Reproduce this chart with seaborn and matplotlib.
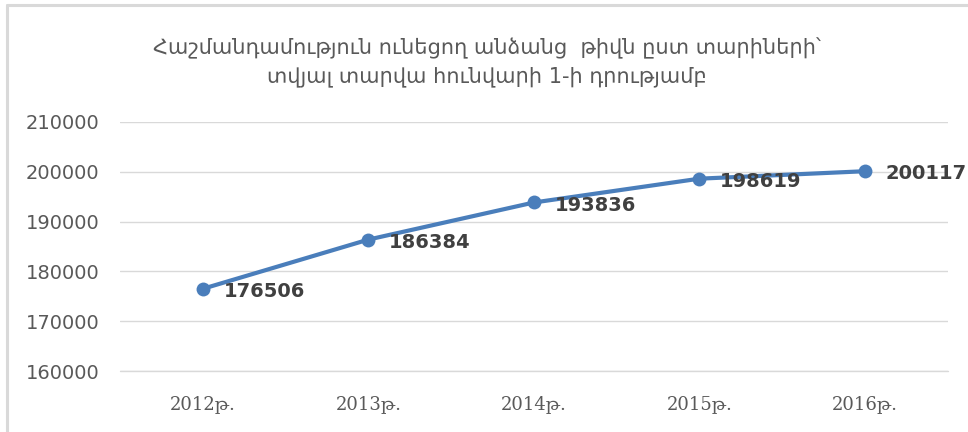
import pandas as pd
import seaborn as sns
from matplotlib import pyplot as plt
from matplotlib.lines import Line2D

# data
years = ["2012թ.", "2013թ.", "2014թ.", "2015թ.", "2016թ."]
people = [176506, 186384, 193836, 198619, 200117]
y_ticks = [160000, 170000, 180000, 190000, 200000, 210000]
title = ("Հաշմանդամություն ունեցող անձանց  թիվն ըստ տարիների՝\n"
         "տվյալ տարվա հունվարի 1-ի դրությամբ")

df = pd.DataFrame({"year": years, "people": people})

sns.set_style("white")
plt.rcParams["font.family"] = ["DejaVu Sans"]

fig = plt.figure(figsize=(9.68, 4.32), dpi=100)
ax = fig.add_axes([0.124, 0.1412, 0.855, 0.5764])

sns.lineplot(data=df, x="year", y="people", ax=ax, color="#4A7EBB",
             linewidth=3, marker="o", markersize=10, markeredgewidth=0, sort=False)

for i, v in enumerate(people):
    ax.annotate(str(v), (i, v), xytext=(15, -2), textcoords="offset points",
                ha="left", va="center", fontsize=14, fontweight="bold",
                color="#404040", clip_on=False)

ax.set_xlim(-0.5, 4.5)
ax.set_ylim(160000, 210000)
ax.set_yticks(y_ticks)
ax.set_yticklabels([str(t) for t in y_ticks], fontsize=14, color="#595959")
ax.set_xticks(range(len(years)))
ax.set_xticklabels(years, fontsize=13, color="#595959", family=["DejaVu Serif", "DejaVu Sans"])
ax.tick_params(axis="y", length=0, pad=15)
ax.tick_params(axis="x", length=0, pad=17)
ax.grid(axis="y", color="#d9d9d9", linewidth=1)
ax.axhline(160000, color="#d9d9d9", linewidth=1, clip_on=False, zorder=0)
ax.set_axisbelow(True)
for s in ax.spines.values():
    s.set_visible(False)
ax.set_xlabel("")
ax.set_ylabel("")

fig.text(0.503, 0.855, title, ha="center", va="center", fontsize=15,
         color="#595959", linespacing=1.45)

# outer chart frame (left and top edges visible)
fig.add_artist(Line2D([7 / 968, 7 / 968], [0, 1 - 5 / 432], color="#d9d9d9", linewidth=2.2))
fig.add_artist(Line2D([7 / 968, 1], [1 - 5 / 432, 1 - 5 / 432], color="#d9d9d9", linewidth=2.2))

fig.savefig("out.png", dpi=100)
